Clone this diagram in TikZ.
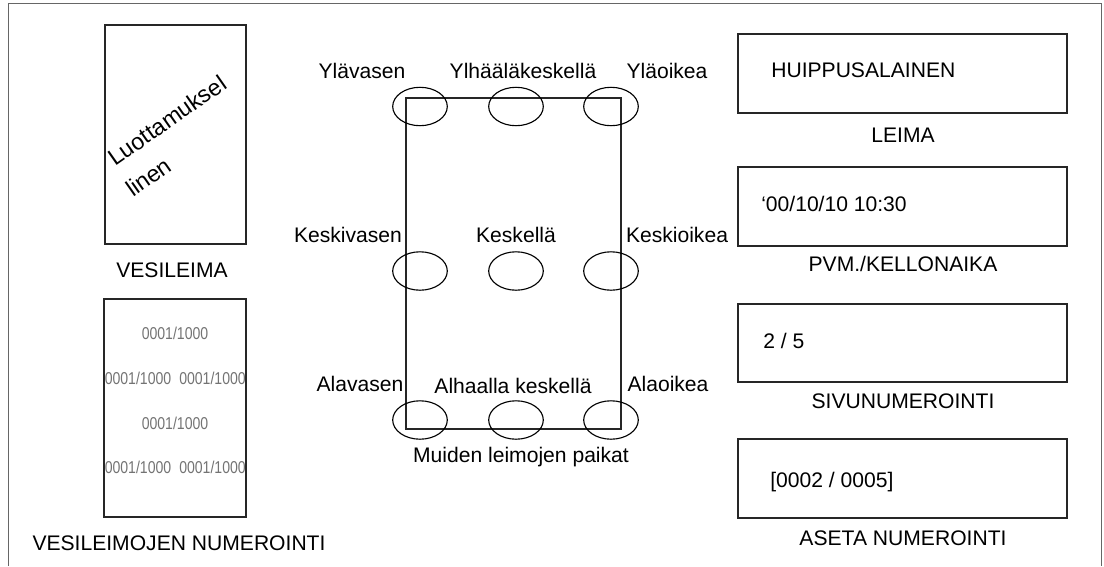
\documentclass[tikz,border=0pt]{standalone}
\usepackage{fontspec}
\usepackage{graphicx}
\setmainfont{Liberation Sans}
\newcommand{\lblsize}{\fontsize{15}{18}\selectfont}
\newcommand{\bigsize}{\fontsize{16.5}{20}\selectfont}
\newcommand{\numsize}{\fontsize{12.2}{14}\selectfont}
\newcommand{\narrow}[1]{\scalebox{0.82}[1]{#1}}
\begin{document}
\begin{tikzpicture}[x=0.025cm, y=-0.025cm,
    frame/.style={draw=black!60, line width=1.1pt},
    box/.style={draw=black!85, line width=0.9pt},
    spot/.style={draw=black, line width=0.8pt},
    lbl/.style={anchor=base, inner sep=0pt, font=\lblsize},
    num/.style={anchor=base, inner sep=0pt, font=\numsize, text=black!55}]

    \useasboundingbox (0,0) rectangle (1104,566);

    % --- Outer frame (open at the bottom) ---
    \draw[frame] (8.5,566) -- (8.5,3.5) -- (1101.5,3.5) -- (1101.5,566);

    % --- Watermark (left, top) ---
    \draw[box] (105,25) rectangle (246,244);
    \node[lbl, anchor=base west, rotate=35, font=\bigsize] (conf) at (115,167) {Luottamuksel};
    \node[lbl, anchor=base west, rotate=35, font=\bigsize] (confb) at (133,198) {linen};
    \node[lbl] (wm) at (172,277) {VESILEIMA};

    % --- Watermark numbering (left, bottom) ---
    \draw[box] (104,299) rectangle (246,517);
    \node[num] (na) at (175,339) {\narrow{0001/1000}};
    \node[num] (nbl) at (138,384) {\narrow{0001/1000}};
    \node[num] (nbr) at (212.5,384) {\narrow{0001/1000}};
    \node[num] (nc) at (175,429) {\narrow{0001/1000}};
    \node[num] (ndl) at (138,473) {\narrow{0001/1000}};
    \node[num] (ndr) at (212.5,473) {\narrow{0001/1000}};
    \node[lbl] (wmnum) at (179,550) {VESILEIMOJEN NUMEROINTI};

    % --- Page with the stamp positions (middle) ---
    \draw[box] (406,98) rectangle (621,429);

    % top row
    \draw[spot] (420,106.5) ellipse (27.3 and 19.2);
    \draw[spot] (516,106.5) ellipse (27.3 and 19.2);
    \draw[spot] (611,106.5) ellipse (27.3 and 19.2);
    \node[lbl] (tl) at (362,78) {Ylävasen};
    \node[lbl] (tc) at (523,78) {Ylhääläkeskellä};
    \node[lbl] (tr) at (667,78) {Yläoikea};

    % middle row
    \draw[spot] (420,271) ellipse (27.3 and 19.2);
    \draw[spot] (516,271) ellipse (27.3 and 19.2);
    \draw[spot] (611,271) ellipse (27.3 and 19.2);
    \node[lbl] (ml) at (348,242) {Keskivasen};
    \node[lbl] (mc) at (516,242) {Keskellä};
    \node[lbl] (mr) at (677,242) {Keskioikea};

    % bottom row
    \draw[spot] (420,420) ellipse (27.3 and 19.2);
    \draw[spot] (516,420) ellipse (27.3 and 19.2);
    \draw[spot] (611,420) ellipse (27.3 and 19.2);
    \node[lbl] (bl) at (360,391) {Alavasen};
    \node[lbl] (bc) at (513,393) {Alhaalla keskellä};
    \node[lbl] (br) at (668,391) {Alaoikea};

    \node[lbl] (pos) at (521,462) {Muiden leimojen paikat};

    % --- Stamp samples (right) ---
    \draw[box] (738,34) rectangle (1067,113);
    \node[lbl, anchor=base west] (stamp) at (771,77) {HUIPPUSALAINEN};
    \node[lbl] (leima) at (903,142) {LEIMA};

    \draw[box] (738,167) rectangle (1067,246);
    \node[lbl, anchor=base west] (date) at (761,211) {‘00/10/10 10:30};
    \node[lbl] (datelbl) at (903,271) {PVM./KELLONAIKA};

    \draw[box] (738,304) rectangle (1067,382);
    \node[lbl, anchor=base west] (page) at (763,348) {2 / 5};
    \node[lbl] (pagelbl) at (903,408) {SIVUNUMEROINTI};

    \draw[box] (738,439) rectangle (1067,518);
    \node[lbl, anchor=base west] (setnum) at (770,487) {[0002 / 0005]};
    \node[lbl] (setnumlbl) at (903,545) {ASETA NUMEROINTI};

\end{tikzpicture}
\end{document}
